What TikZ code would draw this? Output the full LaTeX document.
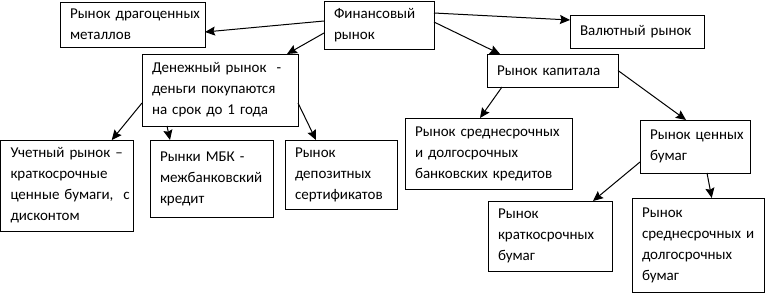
\documentclass[tikz,border=0pt]{standalone}
\usepackage{fontspec}
\setmainfont{Carlito}
\usetikzlibrary{arrows.meta}
\tikzset{
  box/.style={draw, line width=1pt, anchor=north west, inner xsep=10pt, inner ysep=0pt,
    outer sep=0pt, align=left, font=\fontsize{15}{21}\selectfont},
  conn/.style={line width=1pt, -{Stealth[length=10pt,width=9pt,inset=1.5pt]}}
}
\newcommand{\mybox}[7]{%
  \node[box, text width=#4pt-#2pt-20pt, minimum width=#4pt-#2pt, minimum height=#5pt-#3pt] (#1) at (#2,#3) {#6};}
\begin{document}
\begin{tikzpicture}[x=1pt,y=-1pt]
\useasboundingbox (0,0) rectangle (765,293);
\mybox{drag}{60}{2}{205}{47}{\mbox{Рынок драгоценных}\\\mbox{металлов}}{}
\mybox{fin}{324}{1}{434}{49}{\mbox{Финансовый}\\\mbox{рынок}}{}
\mybox{val}{570}{15}{704}{48}{\mbox{Валютный рынок}}{}
\mybox{den}{142}{54}{298}{126}{\mbox{Денежный рынок\ \ -}\\\mbox{деньги покупаются}\\\mbox{на срок до 1 года}}{}
\mybox{kap}{487}{54}{618}{87}{\mbox{Рынок капитала}}{}
\mybox{uch}{0.5}{140}{133}{231}{\mbox{Учетный рынок –}\\\mbox{краткосрочные}\\\mbox{ценные бумаги,\ \ с}\\\mbox{дисконтом}}{}
\mybox{mbk}{150}{140}{273}{217}{\mbox{Рынки МБК -}\\\mbox{межбанковский}\\\mbox{кредит}}{}
\mybox{dep}{285}{140}{397}{209}{\mbox{Рынок}\\\mbox{депозитных}\\\mbox{сертификатов}}{}
\mybox{bank}{405}{118}{572}{189}{\mbox{Рынок среднесрочных}\\\mbox{и долгосрочных}\\\mbox{банковских кредитов}}{}
\mybox{cen}{640}{120}{750}{173}{\mbox{Рынок ценных}\\\mbox{бумаг}}{}
\mybox{krat}{488}{201}{612}{271}{\mbox{Рынок}\\\mbox{краткосрочных}\\\mbox{бумаг}}{}
\mybox{sred}{632}{198}{764.5}{292.5}{\mbox{Рынок}\\\mbox{среднесрочных и}\\\mbox{долгосрочных}\\\mbox{бумаг}}{}
\draw[conn] ([yshift=4pt]fin.west) -- ([yshift=-7.5pt]drag.east);
\draw[conn] ([yshift=-8pt]fin.west) -- ([xshift=67pt]den.north);
\draw[conn] ([yshift=12pt]fin.east) -- ([yshift=11.5pt]val.west);
\draw[conn] ([yshift=3pt]fin.east) -- ([xshift=-52.5pt]kap.north);
\draw[conn] ([yshift=-13pt]den.west) -- ([xshift=45pt]uch.north);
\draw[conn] ([xshift=-53pt]den.south) -- ([xshift=-41.5pt]mbk.north);
\draw[conn] ([yshift=-13pt]den.east) -- ([xshift=-25pt]dep.north);
\draw[conn] ([xshift=-50.5pt]kap.south) -- ([xshift=-8.5pt]bank.north);
\draw[conn] (kap.east) -- ([xshift=-9pt]cen.north);
\draw[conn] ([yshift=-15.5pt]cen.west) -- ([xshift=43pt]krat.north);
\draw[conn] ([xshift=12pt]cen.south) -- ([xshift=13.5pt]sred.north);
\end{tikzpicture}
\end{document}
